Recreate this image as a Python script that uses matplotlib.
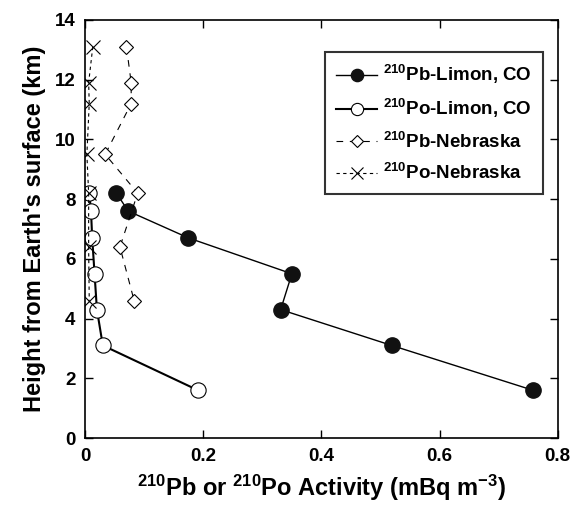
import matplotlib
matplotlib.use("Agg")
from matplotlib import pyplot as plt

plt.rcParams['font.family'] = ['Liberation Sans', 'DejaVu Sans']
plt.rcParams['font.weight'] = 'bold'
plt.rcParams['mathtext.fontset'] = 'custom'
plt.rcParams['mathtext.rm'] = 'Liberation Sans:bold'
plt.rcParams['mathtext.bf'] = 'Liberation Sans:bold'
plt.rcParams['mathtext.default'] = 'bf'

# heights (km) and activities (mBq m-3)
pb_limon_x = [0.053, 0.073, 0.175, 0.350, 0.331, 0.519, 0.758]
pb_limon_y = [8.2, 7.6, 6.7, 5.5, 4.3, 3.1, 1.6]
po_limon_x = [0.007, 0.010, 0.012, 0.016, 0.020, 0.030, 0.191]
po_limon_y = [8.2, 7.6, 6.7, 5.5, 4.3, 3.1, 1.6]
pb_neb_x = [0.070, 0.078, 0.078, 0.034, 0.089, 0.059, 0.083]
pb_neb_y = [13.1, 11.9, 11.2, 9.5, 8.2, 6.4, 4.6]
po_neb_x = [0.013, 0.006, 0.007, 0.003, 0.006, 0.006, 0.007]
po_neb_y = [13.1, 11.9, 11.2, 9.5, 8.2, 6.4, 4.6]

labels = [r'$^{210}$Pb-Limon, CO', r'$^{210}$Po-Limon, CO',
          r'$^{210}$Pb-Nebraska', r'$^{210}$Po-Nebraska']

fig = plt.figure(figsize=(5.75, 5.12), dpi=100)
ax = fig.add_axes([0.148, 0.1445, 0.822, 0.8165])

ax.plot(pb_limon_x, pb_limon_y, '-', color='black', lw=1, marker='o',
        ms=11, mfc='#111111', mec='#111111', label=labels[0])
ax.plot(po_limon_x, po_limon_y, '-', color='black', lw=1.5, marker='o',
        ms=11, mfc='white', mec='black', mew=0.8, label=labels[1])
ax.plot(pb_neb_x, pb_neb_y, color='black', lw=0.8, dashes=(6, 6),
        marker='D', ms=7.5, mfc='white', mec='black', mew=0.8, label=labels[2])
ax.plot(po_neb_x, po_neb_y, color='black', lw=0.8, dashes=(3, 3),
        marker='x', ms=10, mec='black', mew=0.8, label=labels[3])

ax.set_xlim(0, 0.8)
ax.set_ylim(0, 14)
ax.set_xticks([0, 0.2, 0.4, 0.6, 0.8])
ax.set_xticklabels(['0', '0.2', '0.4', '0.6', '0.8'])
ax.set_yticks(range(0, 15, 2))
ax.tick_params(direction='in', top=True, right=True, length=6, width=1,
               labelsize=13.5, pad=7)
for s in ax.spines.values():
    s.set_linewidth(1.2)

ax.set_xlabel(r'$^{210}$Pb or $^{210}$Po Activity (mBq m$^{-3}$)',
              fontsize=17, fontweight='bold', labelpad=6)
ax.set_ylabel("Height from Earth's surface (km)", fontsize=17,
              fontweight='bold', labelpad=6)

leg = ax.legend(loc='upper left', bbox_to_anchor=(0.507, 0.924),
                borderaxespad=0, fontsize=13.5, frameon=True, fancybox=False,
                handlelength=2.2, handletextpad=0.3, labelspacing=0.6,
                borderpad=0.6, markerscale=0.8)
leg.get_frame().set_edgecolor('black')
leg.get_frame().set_linewidth(1.5)

fig.savefig("out.png", dpi=100)
